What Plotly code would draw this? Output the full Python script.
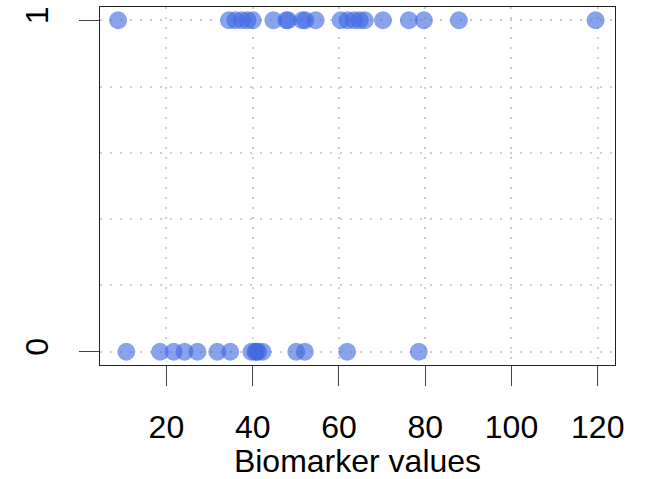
import plotly.graph_objects as go

# Biomarker measurements by outcome group (0 = negative, 1 = positive)
biomarker_pos = [8.8, 34.5, 36.0, 37.5, 38.8, 40.0, 44.8, 47.8, 48.2, 51.5, 52.2,
                 54.6, 60.4, 62.0, 63.5, 64.8, 66.0, 70.2, 76.2, 79.7, 87.8, 119.5]
biomarker_neg = [10.7, 18.5, 21.7, 24.2, 27.2, 31.8, 34.8, 39.7, 40.6, 40.9,
                 41.3, 42.3, 50.1, 52.1, 61.9, 78.5]

x_ticks = [20, 40, 60, 80, 100, 120]
y_ticks = [0, 1]

x_vals = biomarker_pos + biomarker_neg
y_vals = [1] * len(biomarker_pos) + [0] * len(biomarker_neg)

fig = go.Figure(go.Scatter(
    x=x_vals, y=y_vals, mode="markers",
    marker=dict(size=18, color="rgba(65,105,225,0.62)", line=dict(width=0)),
    hoverinfo="x+y", showlegend=False,
))

font = dict(family="Liberation Sans, Arial, sans-serif", size=32, color="black")
grid_col = "#cfcfcf"

fig.update_layout(
    width=654, height=479,
    margin=dict(l=100, r=39, t=7, b=114),
    paper_bgcolor="white", plot_bgcolor="white",
    font=font,
)

fig.update_xaxes(
    range=[4.6, 124.0], tickvals=x_ticks, ticks="outside", ticklen=20,
    tickwidth=1.2, tickcolor="#444", ticklabelstandoff=13,
    showline=True, mirror=True, linecolor="#222", linewidth=1.3,
    showgrid=True, gridcolor=grid_col, gridwidth=1.5, griddash="2px,8px",
    zeroline=False, tickfont=font,
    title=dict(text="Biomarker values", font=font, standoff=2),
)

fig.update_yaxes(
    range=[-0.04, 1.04], tickvals=y_ticks, ticks="outside", ticklen=20,
    tickwidth=1.2, tickcolor="#444", tickangle=-90, ticklabelstandoff=18,
    showline=True, mirror=True, linecolor="#222", linewidth=1.3,
    showgrid=True, gridcolor=grid_col, gridwidth=1.5, griddash="2px,8px",
    minor=dict(tick0=0, dtick=0.2, showgrid=True, gridcolor=grid_col,
               gridwidth=1.5, griddash="2px,8px", ticks=""),
    zeroline=False, tickfont=font,
)

fig.write_html("out.html")
